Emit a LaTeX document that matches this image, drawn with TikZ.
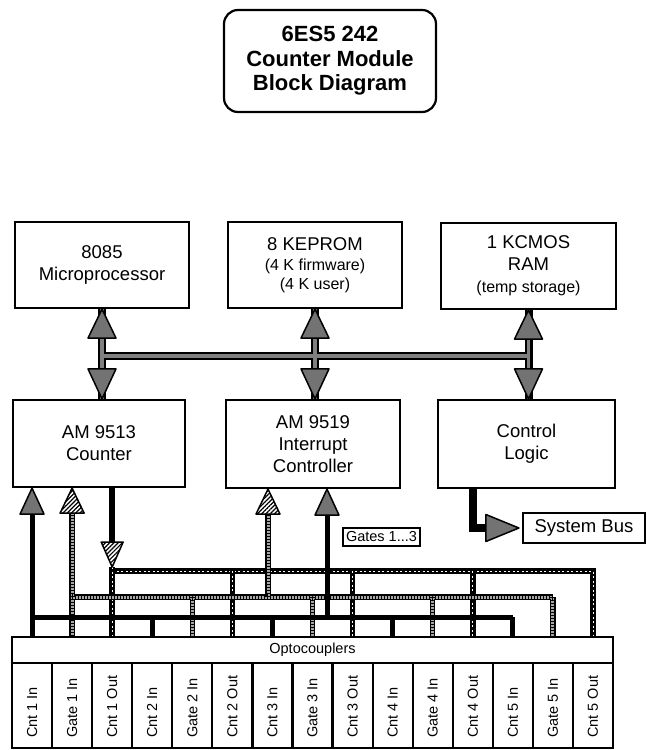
\documentclass[tikz,border=0pt]{standalone}
\usepackage{fontspec}
\setmainfont{Liberation Sans}
\usetikzlibrary{calc,patterns.meta}
\newcommand{\smallerfont}{\fontsize{16}{18}\selectfont}
\newcommand{\headU}[4]{\path[fill=white] (#2) -- ++(-#3,#4) -- ++({2*#3},0) -- cycle; \path[#1] (#2) -- ++(-#3,#4) -- ++({2*#3},0) -- cycle;}
\newcommand{\headD}[4]{\path[fill=white] (#2) -- ++(-#3,-#4) -- ++({2*#3},0) -- cycle; \path[#1] (#2) -- ++(-#3,-#4) -- ++({2*#3},0) -- cycle;}
\newcommand{\headR}[4]{\path[fill=white] (#2) -- ++(-#4,-#3) -- ++(0,{2*#3}) -- cycle; \path[#1] (#2) -- ++(-#4,-#3) -- ++(0,{2*#3}) -- cycle;}
\tikzset{
  blk/.style={draw, line width=2.2pt, fill=white, align=center, inner sep=0pt, font=\fontsize{18.5}{22}\selectfont},
  titlebox/.style={draw, line width=2.2pt, rounded corners=14pt, align=center, inner sep=0pt, minimum width=212pt, minimum height=102pt, font=\bfseries\fontsize{22}{24.5}\selectfont},
  cellbox/.style={draw, line width=2.2pt, minimum width=40.067pt, minimum height=85pt, inner sep=0pt},
  celllbl/.style={rotate=90, anchor=west, inner sep=0pt, font=\fontsize{14.5}{16}\selectfont},
  grayhead/.style={draw=black, fill=black!55, line width=1.5pt, line join=round},
  hatchhead/.style={draw=black, pattern={Lines[angle=45,distance=3pt,line width=1.2pt]}, line width=1.5pt, line join=round},
  busout/.style={line width=8pt, black},
  busin/.style={line width=3.5pt, black!50},
  inbus/.style={line width=5pt, black},
  ropeA/.style={line width=5.5pt, black},
  ropeB/.style={line width=3pt, black!35},
  ropeC/.style={line width=5.5pt, black, dash pattern=on 1.3pt off 1.7pt},
  outbus/.style={line width=5.5pt, black, postaction={draw=white, line width=0.9pt, dash pattern=on 2pt off 2.5pt}},
  outshaft/.style={line width=6pt, black}
}
\begin{document}
\begin{tikzpicture}[x=1pt,y=-1pt]
\useasboundingbox (0,0) rectangle (646,750);

% title
\node[titlebox] (title) at (330,61) {6ES5 242\\Counter Module\\Block Diagram};

% top row
\node[blk, minimum width=174pt, minimum height=86pt] (mp) at (102,265) {8085\\Microprocessor};
\node[blk, minimum width=174pt, minimum height=86pt] (eprom) at (315,265) {8 KEPROM\\[-2pt]\smallerfont (4 K firmware)\\[-3pt]\smallerfont (4 K user)};
\node[blk, minimum width=175pt, minimum height=86pt] (ram) at (528.5,266) {1 KCMOS\\RAM\\\smallerfont (temp storage)};

% middle row
\node[blk, minimum width=172pt, minimum height=87pt] (ctr) at (99,443.5) {AM 9513\\Counter};
\node[blk, minimum width=174pt, minimum height=88pt] (int) at (313,444) {AM 9519\\Interrupt\\Controller};
\node[blk, minimum width=177pt, minimum height=88pt] (ctl) at (526.5,444) {Control\\Logic};

% system bus and gates label
\node[blk, minimum width=122pt, minimum height=30pt] (sys) at (584,528) {System Bus};
\node[draw, line width=1.5pt, fill=white, minimum width=77pt, minimum height=18pt, inner sep=0pt, font=\fontsize{14.5}{16}\selectfont] (g13) at (381.5,537) {Gates 1...3};

% optocouplers
\node[draw, line width=2.2pt, minimum width=601pt, minimum height=26pt, inner sep=0pt, font=\fontsize{14.5}{16}\selectfont] (opto) at (312.5,650) {Optocouplers};
\foreach \i/\t in {1/Cnt 1 In,2/Gate 1 In,3/Cnt 1 Out,4/Cnt 2 In,5/Gate 2 In,6/Cnt 2 Out,7/Cnt 3 In,8/Gate 3 In,9/Cnt 3 Out,10/Cnt 4 In,11/Gate 4 In,12/Cnt 4 Out,13/Cnt 5 In,14/Gate 5 In,15/Cnt 5 Out}{
  \node[cellbox] (cell\i) at ({12+40.067*(\i-0.5)},705.5) {};
  \node[celllbl] (lbl\i) at ($(cell\i.south)+(0,-11)$) {\t};
}

% top bus
\coordinate (busY) at (0,356);
\foreach \s in {busout,busin}{
  \draw[\s] (mp.south) -- (mp.south |- ctr.north);
  \draw[\s] (eprom.south) -- (eprom.south |- int.north);
  \draw[\s] (ram.south) -- (ram.south |- ctl.north);
  \draw[\s] (mp.south |- busY) -- (ram.south |- busY);
}
\headU{grayhead}{mp.south}{14}{29}
\headU{grayhead}{eprom.south}{14}{29}
\headU{grayhead}{ram.south}{14}{29}
\headD{grayhead}{mp.south |- ctr.north}{14}{30}
\headD{grayhead}{eprom.south |- int.north}{14}{30}
\headD{grayhead}{ram.south |- ctl.north}{14}{30}

% lower buses
\coordinate (yIn) at (0,617);
\coordinate (yGate) at (0,597);
\coordinate (yOut) at (0,571);
\coordinate (ig) at ($(int.south)+(-45,0)$);
\coordinate (gg) at ($(int.south)+(14,0)$);

% out bus
\draw[outshaft] (cell3.north |- ctr.south) -- ($(cell3.north |- yOut)+(0,-22)$);
\draw[outbus] (cell3.north |- yOut) -- (cell15.north |- yOut) -- (cell15.north |- opto.north);
\draw[outbus] ($(cell3.north |- yOut)+(0,-4)$) -- (cell3.north |- opto.north);
\foreach \i in {6,9,12}{\draw[outbus] (cell\i.north |- yOut) -- (cell\i.north |- opto.north);}
\headD{hatchhead}{$(cell3.north |- yOut)+(0,-4)$}{11}{25}

% gate bus
\foreach \s in {ropeA,ropeB,ropeC}{
  \draw[\s] (cell2.north |- opto.north) -- ($(cell2.north |- ctr.south)+(0,16)$);
  \draw[\s] (cell2.north |- yGate) -- (cell14.north |- yGate);
  \foreach \i in {5,8,11,14}{\draw[\s] (cell\i.north |- yGate) -- (cell\i.north |- opto.north);}
  \draw[\s] (ig |- yGate) -- ($(ig)+(0,16)$);
}
\headU{hatchhead}{cell2.north |- ctr.south}{12}{25}
\headU{hatchhead}{ig}{12}{25}

% count-in bus
\draw[inbus] (cell1.north |- opto.north) -- ($(cell1.north |- ctr.south)+(0,16)$);
\draw[inbus] (cell1.north |- yIn) -- (cell13.north |- yIn);
\foreach \i in {4,7,10,13}{\draw[inbus] (cell\i.north |- yIn) -- (cell\i.north |- opto.north);}
\draw[inbus] (gg |- yIn) -- ($(gg)+(0,16)$);
\headU{grayhead}{cell1.north |- ctr.south}{12}{26}
\headU{grayhead}{gg}{12}{26}

% control logic to system bus
\draw[line width=8pt] ($(ctl.south)+(-54,0)$) |- ($(sys.west)+(-28,0)$);
\headR{grayhead}{$(sys.west)+(-3,0)$}{13.5}{33}
\end{tikzpicture}
\end{document}
